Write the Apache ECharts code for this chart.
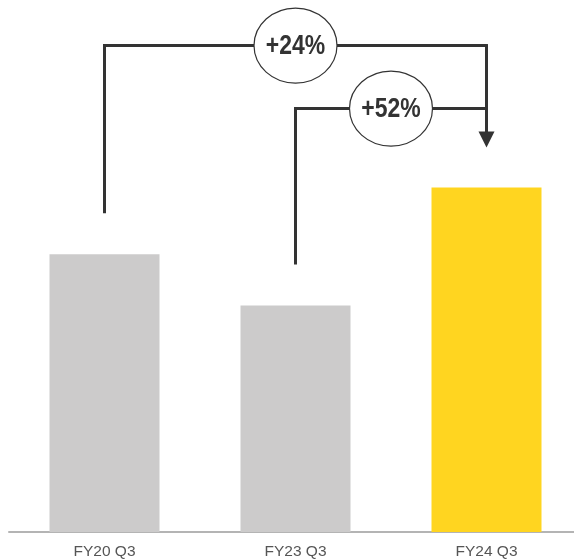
<!DOCTYPE html>
<html>
<head>
<meta charset="utf-8">
<script src="https://cdn.jsdelivr.net/npm/echarts@6/dist/echarts.min.js"></script>
<style>
  html, body { margin: 0; padding: 0; background: #fff; }
  #main { width: 574px; height: 559px; }
</style>
</head>
<body>
<div id="main"></div>
<script>
// 数据
var categories = ['FY20 Q3', 'FY23 Q3', 'FY24 Q3']
var values = [100, 81.5, 124]
var barColors = ['#cccbcb', '#cccbcb', '#ffd520']
var growthLabels = ['+24%', '+52%']

var chart = echarts.init(document.getElementById('main'))

chart.setOption({
  animation: false,
  grid: { left: 9, top: 32, width: 573, height: 500, outerBoundsMode: 'none', containLabel: false },
  xAxis: {
    type: 'category',
    data: categories,
    axisTick: { show: false },
    axisLine: { lineStyle: { color: '#b4b4b4', width: 2 } },
    axisLabel: {
      color: '#555',
      fontSize: 15.5,
      margin: 12,
      fontFamily: 'Liberation Sans, Arial, sans-serif'
    }
  },
  yAxis: {
    type: 'value',
    min: 0,
    max: 180,
    show: false
  },
  series: [
    {
      type: 'bar',
      barWidth: 110,
      data: values.map(function (v, i) {
        return { value: v, itemStyle: { color: barColors[i] } }
      })
    }
  ]
})

// 注释线（括号 + 箭头 + 圆圈）
function drawNotes () {
  var xs = categories.map(function (c) {
    return chart.convertToPixel({ xAxisIndex: 0 }, c)
  })
  var tops = values.map(function (v) {
    return chart.convertToPixel({ yAxisIndex: 0 }, v)
  })
  var gap = 41
  var tip = tops[2] - 40
  var levels = [tops[2] - 142, tops[2] - 79]
  var lineStyle = { stroke: '#333', lineWidth: 3, fill: null }
  var els = []

  // 两条括号线
  ;[0, 1].forEach(function (i) {
    els.push({
      type: 'polyline',
      shape: {
        points: [[xs[i], tops[i] - gap], [xs[i], levels[i]], [xs[2], levels[i]]]
      },
      style: lineStyle,
      z: 10
    })
  })
  // 竖线到箭头
  els.push({
    type: 'line',
    shape: { x1: xs[2], y1: levels[0] - 1.5, x2: xs[2], y2: tip - 15 },
    style: lineStyle,
    z: 10
  })
  els.push({
    type: 'polygon',
    shape: { points: [[xs[2] - 8, tip - 16], [xs[2] + 8, tip - 16], [xs[2], tip]] },
    style: { fill: '#333' },
    z: 10
  })

  // 圆圈 + 文字
  ;[0, 1].forEach(function (i) {
    var cx = (xs[i] + xs[2]) / 2
    var cy = levels[i]
    els.push({
      type: 'ellipse',
      shape: { cx: cx, cy: cy, rx: 41.5, ry: 37.5 },
      style: { fill: '#fff', stroke: '#333', lineWidth: 1.2 },
      z: 20
    })
    els.push({
      type: 'text',
      x: cx,
      y: cy + 1,
      scaleX: 0.82,
      style: {
        text: growthLabels[i],
        fill: '#333',
        font: 'bold 28px "Liberation Sans", Arial, sans-serif',
        align: 'center',
        verticalAlign: 'middle'
      },
      z: 30
    })
  })

  chart.setOption({ graphic: { elements: els } })
}

drawNotes()
</script>
</body>
</html>
